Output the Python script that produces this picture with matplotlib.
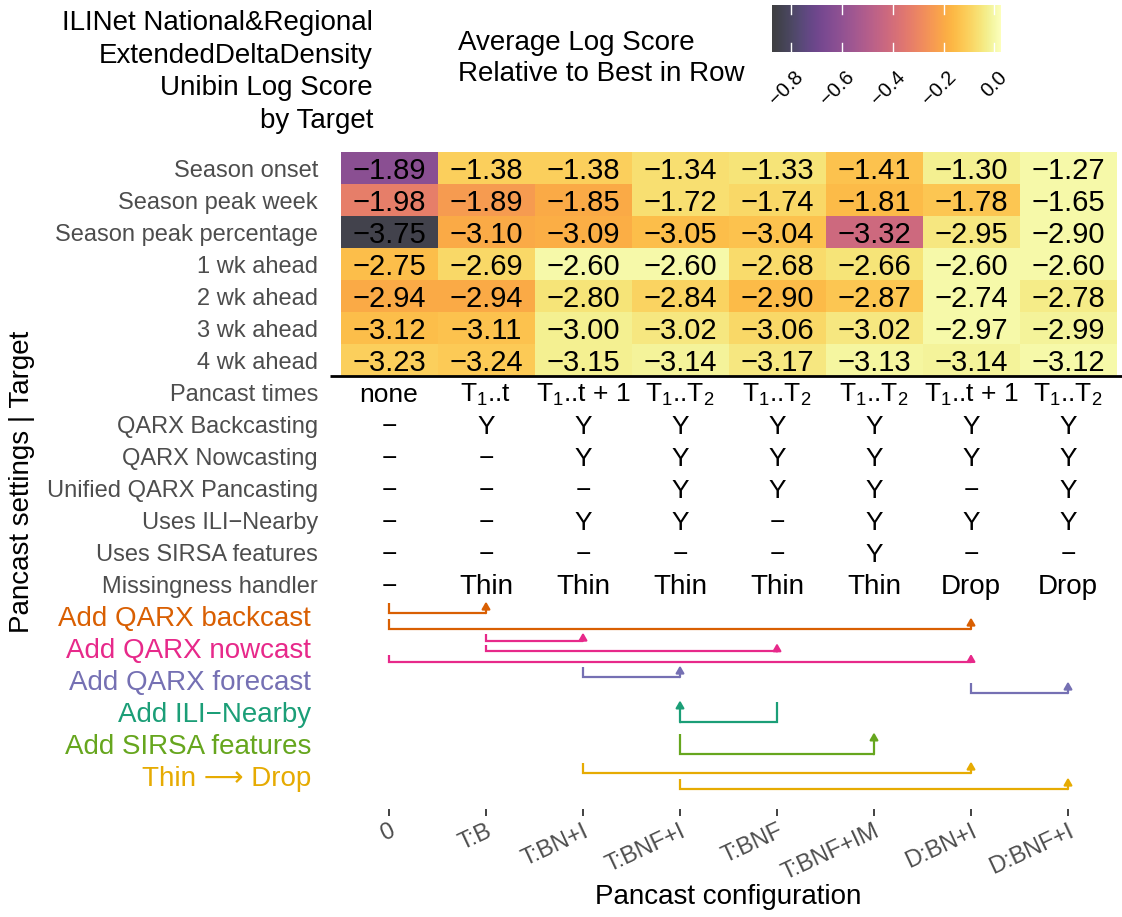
import numpy as np
import matplotlib
matplotlib.use("Agg")
import matplotlib.pyplot as plt
from matplotlib.colors import Normalize

plt.rcParams["font.family"] = ["Liberation Sans", "DejaVu Sans"]
plt.rcParams["mathtext.fontset"] = "custom"
plt.rcParams["mathtext.rm"] = "Liberation Sans"
plt.rcParams["mathtext.it"] = "Liberation Sans:italic"
plt.rcParams["mathtext.default"] = "regular"

# ---- data ----
configs = ["0", "T:B", "T:BN+I", "T:BNF+I", "T:BNF", "T:BNF+IM", "D:BN+I", "D:BNF+I"]
targets = ["Season onset", "Season peak week", "Season peak percentage",
           "1 wk ahead", "2 wk ahead", "3 wk ahead", "4 wk ahead"]
season_onset = [-1.89, -1.38, -1.38, -1.34, -1.33, -1.41, -1.30, -1.27]
season_peak_week = [-1.98, -1.89, -1.85, -1.72, -1.74, -1.81, -1.78, -1.65]
season_peak_pct = [-3.75, -3.10, -3.09, -3.05, -3.04, -3.32, -2.95, -2.90]
wk1_ahead = [-2.75, -2.69, -2.60, -2.60, -2.68, -2.66, -2.60, -2.60]
wk2_ahead = [-2.94, -2.94, -2.80, -2.84, -2.90, -2.87, -2.74, -2.78]
wk3_ahead = [-3.12, -3.11, -3.00, -3.02, -3.06, -3.02, -2.97, -2.99]
wk4_ahead = [-3.23, -3.24, -3.15, -3.14, -3.17, -3.13, -3.14, -3.12]

setting_names = ["Pancast times", "QARX Backcasting", "QARX Nowcasting",
                 "Unified QARX Pancasting", "Uses ILI\u2212Nearby",
                 "Uses SIRSA features", "Missingness handler"]
pancast_times = ["none", r"T$_1$..t", r"T$_1$..t + 1", r"T$_1$..T$_2$", r"T$_1$..T$_2$",
                 r"T$_1$..T$_2$", r"T$_1$..t + 1", r"T$_1$..T$_2$"]
qarx_backcasting = ["-", "Y", "Y", "Y", "Y", "Y", "Y", "Y"]
qarx_nowcasting = ["-", "-", "Y", "Y", "Y", "Y", "Y", "Y"]
unified_pancasting = ["-", "-", "-", "Y", "Y", "Y", "-", "Y"]
uses_ili_nearby = ["-", "-", "Y", "Y", "-", "Y", "Y", "Y"]
uses_sirsa = ["-", "-", "-", "-", "-", "Y", "-", "-"]
missingness = ["-", "Thin", "Thin", "Thin", "Thin", "Thin", "Drop", "Drop"]

change_names = ["Add QARX backcast", "Add QARX nowcast", "Add QARX forecast",
                "Add ILI\u2212Nearby", "Add SIRSA features", "Thin \u27F6 Drop"]
change_colors = ["#D95F02", "#E7298A", "#7570B3", "#1B9E77", "#66A61E", "#E6AB02"]
# (change index, from config, to config)
transitions = [
    (0, "0", "T:B"),
    (0, "0", "D:BN+I"),
    (1, "T:B", "T:BN+I"),
    (1, "T:B", "T:BNF"),
    (1, "0", "D:BN+I"),
    (2, "T:BN+I", "T:BNF+I"),
    (2, "D:BN+I", "D:BNF+I"),
    (3, "T:BNF", "T:BNF+I"),
    (4, "T:BNF+I", "T:BNF+IM"),
    (5, "T:BN+I", "D:BN+I"),
    (5, "T:BNF+I", "D:BNF+I"),
]

MINUS = "\u2212"
scores = np.array([season_onset, season_peak_week, season_peak_pct,
                   wk1_ahead, wk2_ahead, wk3_ahead, wk4_ahead])
relative = scores - scores.max(axis=1, keepdims=True)
settings = [pancast_times, qarx_backcasting, qarx_nowcasting, unified_pancasting,
            uses_ili_nearby, uses_sirsa, missingness]

W, H = 1122, 917
fig = plt.figure(figsize=(W / 100, H / 100), dpi=100)
ax = fig.add_axes([340.5 / W, 1 - 809 / H, 776 / W, (809 - 152) / H])

norm = Normalize(vmin=-0.876, vmax=0.022)
cmap = plt.get_cmap("inferno")
n_rows = len(targets)
dy = 0.09  # nudge text down a little, like ggplot's vjust

ax.imshow(relative, cmap=cmap, norm=norm, alpha=0.75, aspect="auto",
          extent=(-0.5, len(configs) - 0.5, n_rows - 0.5, -0.5), interpolation="nearest")
for i in range(n_rows):
    for j in range(len(configs)):
        ax.text(j, i + dy, f"{scores[i, j]:.2f}".replace("-", MINUS), ha="center",
                va="center", fontsize=21, color="black")

# settings table
for k, row in enumerate(settings):
    y = n_rows + k + dy
    for j, val in enumerate(row):
        txt = MINUS if val == "-" else val
        size = 20 if val in ("Thin", "Drop") else 19
        ax.text(j, y, txt, ha="center", va="center", fontsize=size, color="black")

ax.plot([-0.608, 7.6], [n_rows - 0.5, n_rows - 0.5], color="black", lw=2,
        clip_on=False, solid_capstyle="butt")

# row labels
for i, name in enumerate(targets + setting_names):
    ax.text(-0.732, i + dy, name, ha="right", va="center", fontsize=17, color="#4D4D4D")
first_change_row = n_rows + len(setting_names)
for g, (name, col) in enumerate(zip(change_names, change_colors)):
    ax.text(-0.804, first_change_row + g + dy, name, ha="right", va="center",
            fontsize=20, color=col)

# transition brackets
for g, name in enumerate(change_names):
    group = [t for t in transitions if t[0] == g]
    n = len(group)
    row = first_change_row + g
    col = change_colors[g]
    for k, (_, a, b) in enumerate(group):
        x0, x1 = configs.index(a), configs.index(b)
        top = row - 0.5 + (k + 0.18) / n
        bot = row - 0.5 + (k + 1 - 0.18) / n
        ax.plot([x0, x0, x1], [top, bot, bot], color=col, lw=1.6,
                solid_joinstyle="miter", solid_capstyle="butt")
        ax.annotate("", xy=(x1, top - 0.04), xytext=(x1, bot),
                    arrowprops=dict(arrowstyle="-|>,head_length=0.55,head_width=0.32",
                                    color=col, lw=1.6, shrinkA=0, shrinkB=0,
                                    mutation_scale=7.5))

ax.set_xlim(-0.5, len(configs) - 0.5)
ax.set_ylim((809 - 168) / 32, -0.5)
ax.set_yticks([])
ax.set_xticks(range(len(configs)))
ax.set_xticklabels(configs, rotation=25, ha="right", rotation_mode="anchor",
                   fontsize=17, color="#4D4D4D")
ax.tick_params(axis="x", length=5, width=1.3, color="#333333", pad=3)
for s in ax.spines.values():
    s.set_visible(False)

fig.text(22 / W, 1 - 482 / H, "Pancast settings | Target", rotation=90,
         ha="center", va="center", fontsize=20)
fig.text(728 / W, 1 - 897 / H, "Pancast configuration", ha="center", va="center",
         fontsize=20)

title_lines = ["ILINet National&Regional", "ExtendedDeltaDensity",
               "Unibin Log Score", "by Target"]
for i, line in enumerate(title_lines):
    fig.text(373 / W, 1 - (30 + 32.7 * i) / H, line, ha="right", va="baseline",
             fontsize=20)

for i, line in enumerate(["Average Log Score", "Relative to Best in Row"]):
    fig.text(458 / W, 1 - (50 + 31 * i) / H, line, ha="left", va="baseline",
             fontsize=20)

# colour bar
cax = fig.add_axes([772 / W, 1 - 52 / H, 228 / W, 47 / H])
grad = np.linspace(norm.vmin, norm.vmax, 400)[None, :]
cax.imshow(grad, cmap=cmap, norm=norm, alpha=0.75, aspect="auto",
           extent=(norm.vmin, norm.vmax, 0, 1))
cb_ticks = [-0.8, -0.6, -0.4, -0.2, 0.0]
for t in cb_ticks:
    cax.plot([t, t], [0, 0.2], color="white", lw=1)
    cax.plot([t, t], [0.8, 1], color="white", lw=1)
    cax.text(t + 0.01, -0.33, f"{t:.1f}".replace("-", MINUS), rotation=45,
             ha="right", va="top", rotation_mode="anchor", fontsize=14.5,
             clip_on=False)
cax.set_xlim(norm.vmin, norm.vmax)
cax.set_ylim(0, 1)
cax.axis("off")

fig.savefig("out.png", dpi=100)
